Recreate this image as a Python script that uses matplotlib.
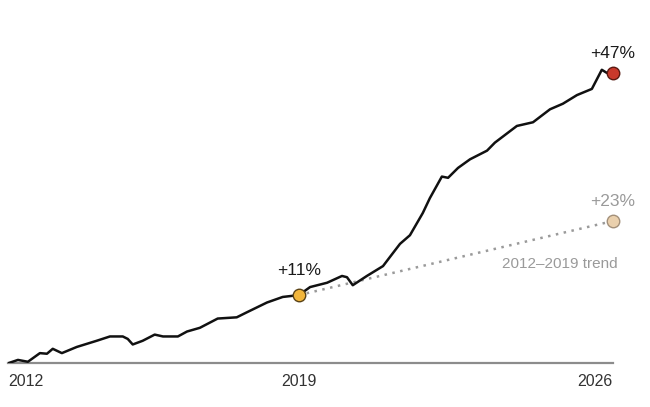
import matplotlib.pyplot as plt

plt.rcParams['font.family'] = ['Liberation Sans', 'DejaVu Sans']

# price change since 2012, in percent
years = [2012.00, 2012.22, 2012.46, 2012.75, 2012.92, 2013.06, 2013.28, 2013.64,
         2014.12, 2014.44, 2014.75, 2014.87, 2014.99, 2015.23, 2015.52, 2015.72,
         2016.08, 2016.30, 2016.61, 2017.04, 2017.50, 2017.74, 2018.23, 2018.61,
         2019.00, 2019.27, 2019.68, 2020.04, 2020.16, 2020.30, 2020.64, 2021.03,
         2021.20, 2021.44, 2021.68, 2021.99, 2022.16, 2022.45, 2022.60, 2022.84,
         2023.13, 2023.54, 2023.73, 2024.26, 2024.65, 2025.06, 2025.37, 2025.71,
         2026.07, 2026.31, 2026.43, 2026.58]
change = [0.0, 0.5, 0.2, 1.6, 1.5, 2.3, 1.6, 2.6,
          3.6, 4.3, 4.3, 3.9, 3.0, 3.6, 4.6, 4.3,
          4.3, 5.1, 5.7, 7.2, 7.4, 8.2, 9.8, 10.7,
          11.0, 12.3, 13.0, 14.1, 13.9, 12.6, 14.1, 15.7,
          17.2, 19.3, 20.7, 24.3, 26.7, 30.2, 30.0, 31.6,
          33.0, 34.4, 35.7, 38.4, 39.0, 41.1, 42.0, 43.4,
          44.4, 47.5, 47.0, 47.0]

trend_years = [2019.00, 2026.58]
trend_change = [11, 23]

tick_years = [2012, 2019, 2026]
tick_labels = ['2012', '2019', '2026']

fig = plt.figure(figsize=(6.5, 4.07), dpi=100)
ax = fig.add_axes([8 / 650, 44 / 407, 605 / 650, 321 / 407])
ax.set_xlim(2011.98, 2026.58)
ax.set_ylim(0, 52)

ax.plot(trend_years, trend_change, color='#9a9a9a', lw=1.8, ls=(0, (1, 2.2)),
        zorder=2)
ax.plot(years, change, color='#111111', lw=1.8, zorder=3,
        solid_joinstyle='round')

ax.plot(trend_years[0], trend_change[0], 'o', ms=9, mfc='#f2b63c',
        mec='#5a4317', mew=1.0, zorder=4, clip_on=False)
ax.plot(years[-1], change[-1], 'o', ms=9, mfc='#c8392b', mec='#5a1a12',
        mew=1.0, zorder=4, clip_on=False)
ax.plot(trend_years[1], trend_change[1], 'o', ms=9, mfc='#ead0ad',
        mec='#a3907a', mew=1.0, zorder=4, clip_on=False)

ax.text(trend_years[0], trend_change[0] + 2.7, '+11%', ha='center',
        va='bottom', fontsize=12.5, color='#1a1a1a')
ax.text(years[-1], change[-1] + 1.9, '+47%', ha='center', va='bottom',
        fontsize=12.5, color='#1a1a1a')
ax.text(trend_years[1], trend_change[1] + 1.9, '+23%', ha='center',
        va='bottom', fontsize=12.5, color='#9a9a9a')
ax.text(2026.68, 16.0, '2012\u20132019 trend', ha='right', va='center',
        fontsize=11, color='#9a9a9a')

for s in ['top', 'right', 'left']:
    ax.spines[s].set_visible(False)
ax.spines['bottom'].set_color('#8c8c8c')
ax.spines['bottom'].set_linewidth(1.6)
ax.set_yticks([])
ax.set_xticks([])

aligns = ['left', 'center', 'right']
for yr, lab, ha in zip(tick_years, tick_labels, aligns):
    xpos = yr
    if lab == '2012':
        xpos = 2011.98
    if lab == '2026':
        xpos = 2026.58
    ax.text(xpos, -1.8, lab, ha=ha, va='top', fontsize=11.5, color='#333333')

fig.savefig('out.png', dpi=100)
